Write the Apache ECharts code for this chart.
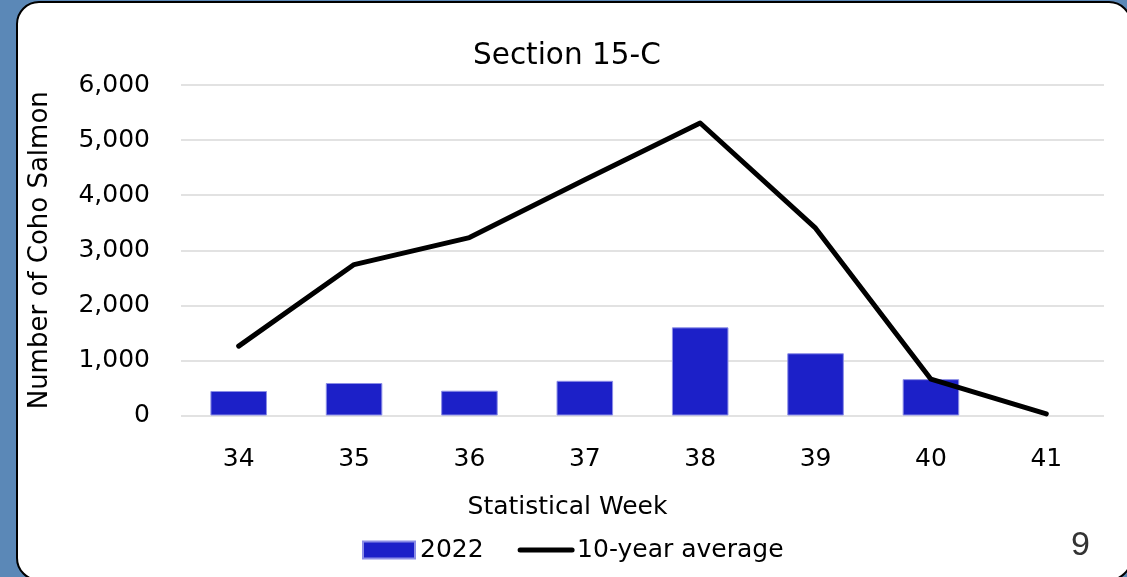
<!DOCTYPE html>
<html>
<head>
<meta charset="utf-8">
<script src="https://cdn.jsdelivr.net/npm/echarts@6/dist/echarts.min.js"></script>
<style>
  html, body { margin: 0; padding: 0; background: #5b88b7; }
  #chart { width: 1127px; height: 577px; }
</style>
</head>
<body>
<div id="chart"></div>
<script>
var weeks = ['34', '35', '36', '37', '38', '39', '40', '41'];
var catch2022 = [445, 590, 450, 630, 1600, 1130, 660, null];
var tenYearAvg = [1260, 2740, 3230, 4280, 5310, 3400, 660, 30];
var yTicks = [0, 1000, 2000, 3000, 4000, 5000, 6000];

var font = 'DejaVu Sans';
var chart = echarts.init(document.getElementById('chart'));

var option = {
    backgroundColor: '#5b88b7',
    animation: false,
    textStyle: { fontFamily: font, color: '#000' },
    graphic: [
        {
            type: 'rect',
            z: -10,
            shape: { x: 17, y: 2, width: 1114, height: 578, r: 22 },
            style: { fill: '#fff', stroke: '#000', lineWidth: 2 }
        },
        {
            type: 'text',
            left: 1071,
            top: 529,
            style: { text: '9', fontSize: 34, fontFamily: 'Liberation Sans', fill: '#333' }
        }
    ],
    title: {
        text: 'Section 15-C',
        left: 473,
        top: 41,
        padding: 0,
        textStyle: { fontSize: 29.5, fontWeight: 'normal', fontFamily: font, color: '#000' }
    },
    grid: { left: 181, right: 23, top: 85, bottom: 161.5 },
    legend: {
        left: 357,
        bottom: 9.5,
        itemWidth: 52,
        itemHeight: 17,
        itemGap: 34,
        textStyle: { fontSize: 25, fontFamily: font, color: '#000' },
        data: [
            { name: '2022', icon: 'rect' },
            {
                name: '10-year average',
                itemStyle: { color: 'rgba(0,0,0,0)', borderWidth: 0 },
                lineStyle: { color: '#000', width: 5, cap: 'round' }
            }
        ]
    },
    xAxis: {
        type: 'category',
        data: weeks,
        name: 'Statistical Week',
        nameLocation: 'middle',
        nameGap: 79,
        nameTextStyle: { fontSize: 25, fontFamily: font, color: '#000', padding: [0, 150, 0, 0] },
        axisLine: { show: false },
        axisTick: { show: false },
        axisLabel: { fontSize: 25, margin: 31, color: '#000' }
    },
    yAxis: {
        type: 'value',
        min: 0,
        max: yTicks[yTicks.length - 1],
        interval: 1000,
        name: 'Number of Coho Salmon',
        nameLocation: 'middle',
        nameGap: 128,
        nameTextStyle: { fontSize: 26, fontFamily: font, color: '#000' },
        axisLine: { show: false },
        axisTick: { show: false },
        splitLine: { lineStyle: { color: '#d9d9d9', width: 1.5 } },
        axisLabel: {
            fontSize: 25,
            margin: 31,
            color: '#000',
            formatter: function (v) { return v.toLocaleString('en-US'); }
        }
    },
    series: [
        {
            name: '2022',
            type: 'bar',
            data: catch2022,
            barWidth: '49%',
            itemStyle: { color: '#1c20c8', borderColor: '#8c8ee6', borderWidth: 1 }
        },
        {
            name: '10-year average',
            type: 'line',
            data: tenYearAvg,
            symbol: 'none',
            z: 5,
            lineStyle: { color: '#000', width: 5, cap: 'round', join: 'round' },
            itemStyle: { color: '#000' }
        }
    ]
};

chart.setOption(option);
</script>
</body>
</html>
